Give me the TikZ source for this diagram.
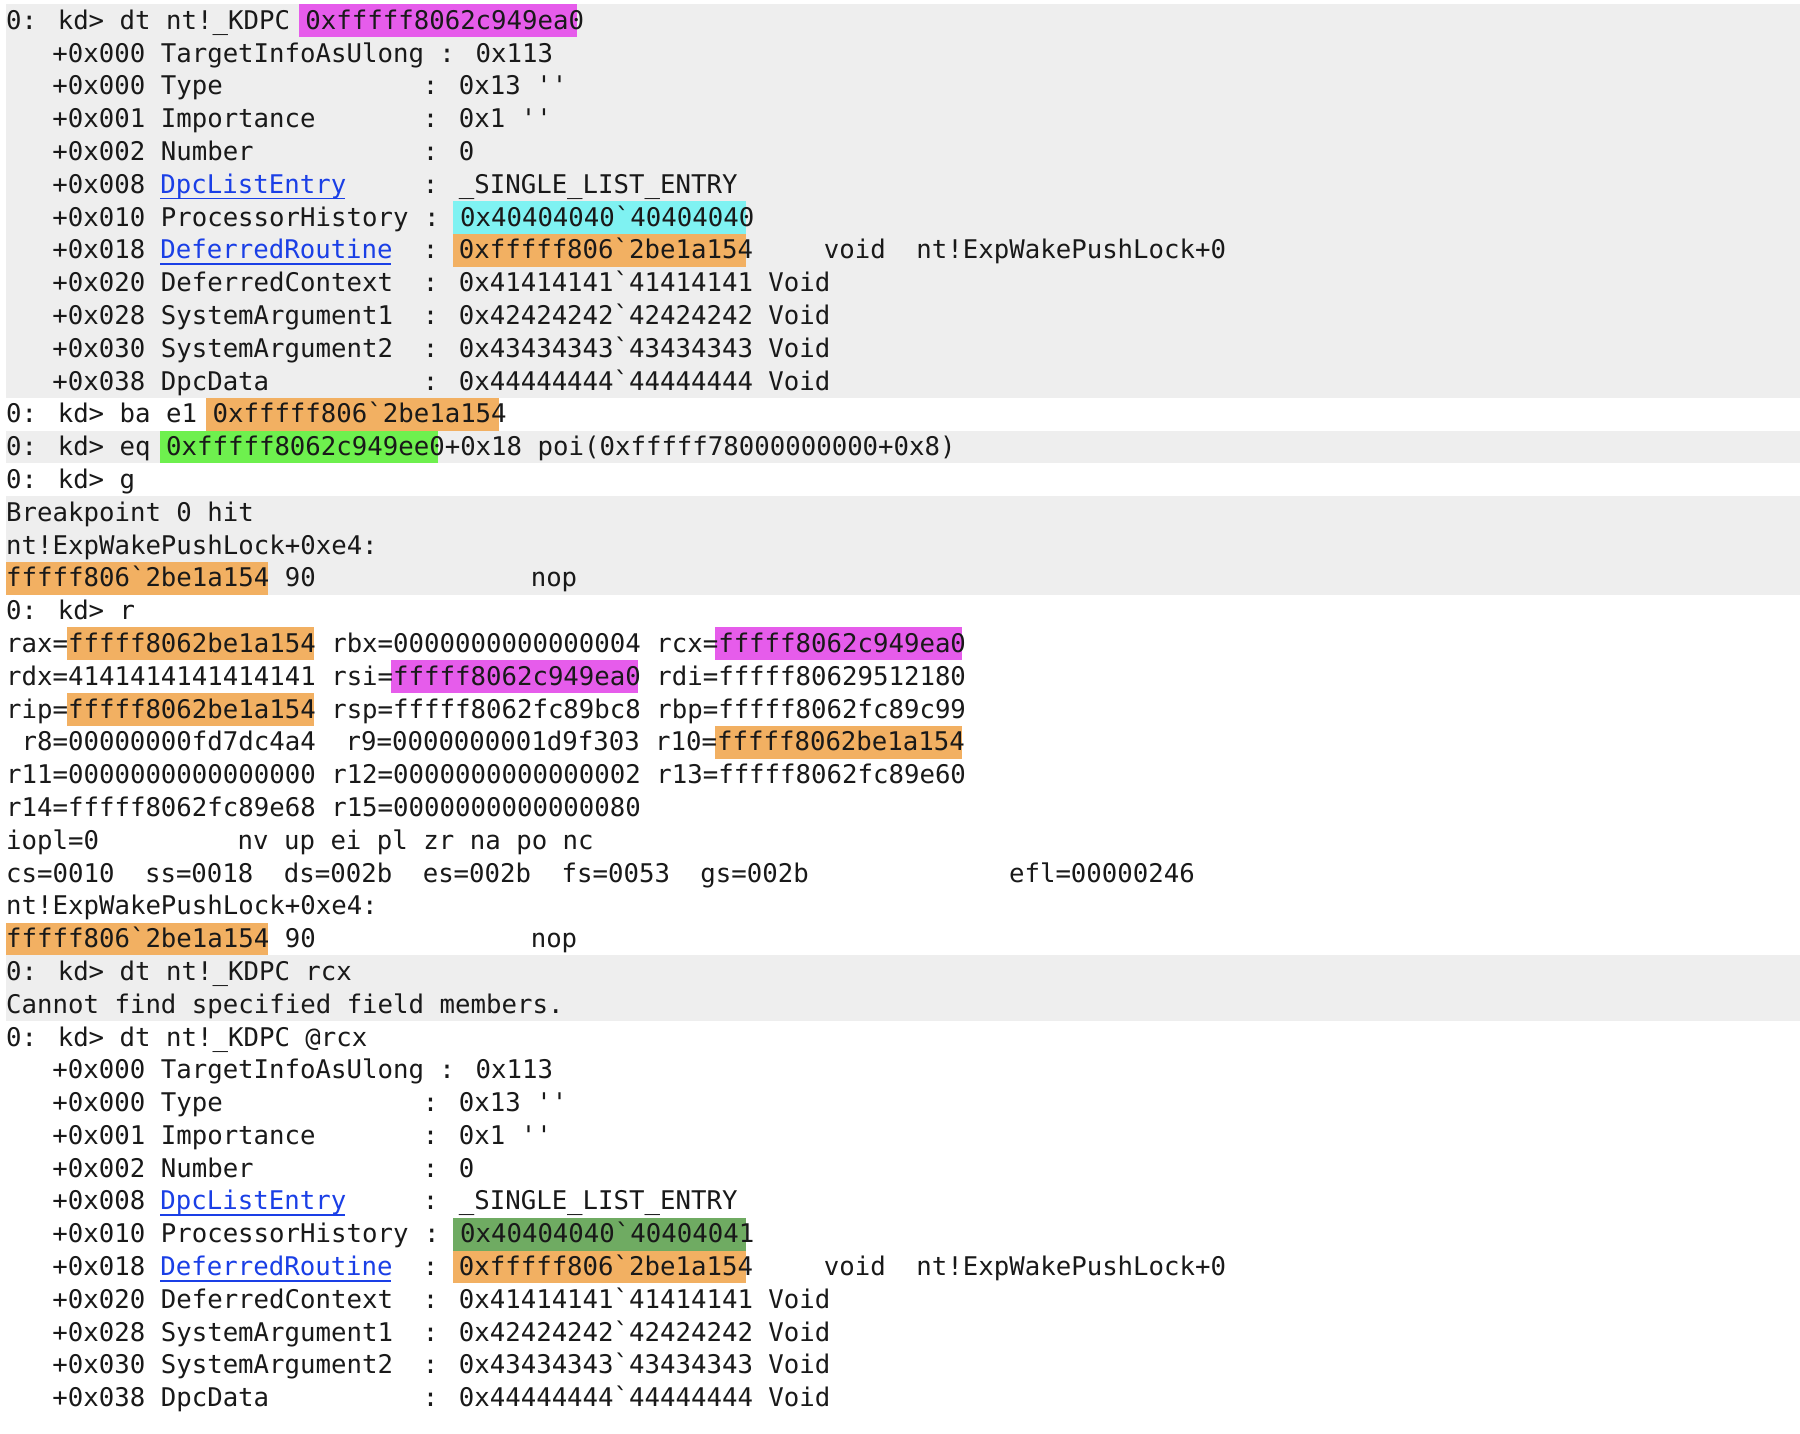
\documentclass[tikz,border=0pt]{standalone}
\usepackage{fontspec}
\newfontfamily\monof{DejaVu Sans Mono}
\newcommand\bq{\symbol{96}}
\newcommand\sq{\symbol{39}}
\definecolor{bandgray}{HTML}{EEEEEE}
\definecolor{hmag}{HTML}{E65CEB}
\definecolor{hcyan}{HTML}{7FF2F2}
\definecolor{horange}{HTML}{F2B062}
\definecolor{hgreen}{HTML}{6EF04E}
\definecolor{hdgreen}{HTML}{6FAB62}
\definecolor{linkblue}{HTML}{1A3FE6}
\tikzset{txt/.style={anchor=base west,inner sep=0pt,font=\monof\fontsize{11.2pt}{13pt}\selectfont,text=black!90}}
\newcommand\Tx[3]{\node[txt] at ({5+#2*13.44},{18+#1*28.57+7.5}) {#3};}
\newcommand\Lk[3]{\node[txt,text=linkblue] at ({5+#2*13.44},{18+#1*28.57+7.5}) {#3};
  \draw[linkblue,line width=0.6pt] ({5+#2*13.44},{18+#1*28.57+11}) -- ++({#3len*13.44},0);}
\newcommand\Ul[3]{\draw[linkblue,line width=0.7pt] ({5+#2*13.44},{18+#1*28.57+12}) -- ++({#3*13.44},0);}
\newcommand\Hl[4]{\fill[#4] ({5+#2*13.44},{18+#1*28.57-14.3}) rectangle ++({#3*13.44},28.6);}
\newcommand\Band[2]{\fill[bandgray] (5,{18+#1*28.57-14.3}) rectangle (1568,{18+#2*28.57+14.3});}
\newcommand\Kdpc[2]{%
\Tx{#1}{3}{+0x000 TargetInfoAsUlong : 0x113}
\Tx{\numexpr#1+1\relax}{3}{+0x000 Type}\Tx{\numexpr#1+1\relax}{27}{: 0x13 \sq\sq}
\Tx{\numexpr#1+2\relax}{3}{+0x001 Importance}\Tx{\numexpr#1+2\relax}{27}{: 0x1 \sq\sq}
\Tx{\numexpr#1+3\relax}{3}{+0x002 Number}\Tx{\numexpr#1+3\relax}{27}{: 0}
\Ul{\numexpr#1+4\relax}{10}{12}
\Tx{\numexpr#1+4\relax}{3}{+0x008}\node[txt,text=linkblue] at ({5+10*13.44},{18+(#1+4)*28.57+7.5}) {DpcListEntry};\Tx{\numexpr#1+4\relax}{27}{: \_SINGLE\_LIST\_ENTRY}
\Tx{\numexpr#1+5\relax}{3}{+0x010 ProcessorHistory : 0x40404040\bq4040404#2}
\Ul{\numexpr#1+6\relax}{10}{15}
\Tx{\numexpr#1+6\relax}{3}{+0x018}\node[txt,text=linkblue] at ({5+10*13.44},{18+(#1+6)*28.57+7.5}) {DeferredRoutine};\Tx{\numexpr#1+6\relax}{27}{: 0xfffff806\bq2be1a154}\Tx{\numexpr#1+6\relax}{53}{void}\Tx{\numexpr#1+6\relax}{59}{nt!ExpWakePushLock+0}
\Tx{\numexpr#1+7\relax}{3}{+0x020 DeferredContext}\Tx{\numexpr#1+7\relax}{27}{: 0x41414141\bq41414141 Void}
\Tx{\numexpr#1+8\relax}{3}{+0x028 SystemArgument1}\Tx{\numexpr#1+8\relax}{27}{: 0x42424242\bq42424242 Void}
\Tx{\numexpr#1+9\relax}{3}{+0x030 SystemArgument2}\Tx{\numexpr#1+9\relax}{27}{: 0x43434343\bq43434343 Void}
\Tx{\numexpr#1+10\relax}{3}{+0x038 DpcData}\Tx{\numexpr#1+10\relax}{27}{: 0x44444444\bq44444444 Void}}
\begin{document}
\begin{tikzpicture}[x=0.5pt,y=-0.5pt]
\useasboundingbox[fill=white] (0,0) rectangle (1568,1249);
% bands
\Band{0}{11}\Band{13}{13}\Band{15}{17}\Band{29}{30}
% highlights
\Hl{0}{19}{18}{hmag}
\Hl{6}{29}{19}{hcyan}
\Hl{7}{29}{19}{horange}
\Hl{12}{13}{19}{horange}
\Hl{13}{10}{18}{hgreen}
\Hl{17}{0}{17}{horange}
\Hl{19}{4}{16}{horange}\Hl{19}{46}{16}{hmag}
\Hl{20}{25}{16}{hmag}
\Hl{21}{4}{16}{horange}
\Hl{22}{46}{16}{horange}
\Hl{28}{0}{17}{horange}
\Hl{37}{29}{19}{hdgreen}
\Hl{38}{29}{19}{horange}
% text
\Tx{0}{0}{0: kd> dt nt!\_KDPC 0xfffff8062c949ea0}
\Kdpc{1}{0}
\Tx{12}{0}{0: kd> ba e1 0xfffff806\bq2be1a154}
\Tx{13}{0}{0: kd> eq 0xfffff8062c949ee0+0x18 poi(0xfffff78000000000+0x8)}
\Tx{14}{0}{0: kd> g}
\Tx{15}{0}{Breakpoint 0 hit}
\Tx{16}{0}{nt!ExpWakePushLock+0xe4:}
\Tx{17}{0}{fffff806\bq2be1a154 90}\Tx{17}{34}{nop}
\Tx{18}{0}{0: kd> r}
\Tx{19}{0}{rax=fffff8062be1a154 rbx=0000000000000004 rcx=fffff8062c949ea0}
\Tx{20}{0}{rdx=4141414141414141 rsi=fffff8062c949ea0 rdi=fffff80629512180}
\Tx{21}{0}{rip=fffff8062be1a154 rsp=fffff8062fc89bc8 rbp=fffff8062fc89c99}
\Tx{22}{1}{r8=00000000fd7dc4a4}\Tx{22}{22}{r9=0000000001d9f303 r10=fffff8062be1a154}
\Tx{23}{0}{r11=0000000000000000 r12=0000000000000002 r13=fffff8062fc89e60}
\Tx{24}{0}{r14=fffff8062fc89e68 r15=0000000000000080}
\Tx{25}{0}{iopl=0}\Tx{25}{15}{nv up ei pl zr na po nc}
\Tx{26}{0}{cs=0010}\Tx{26}{9}{ss=0018}\Tx{26}{18}{ds=002b}\Tx{26}{27}{es=002b}\Tx{26}{36}{fs=0053}\Tx{26}{45}{gs=002b}\Tx{26}{65}{efl=00000246}
\Tx{27}{0}{nt!ExpWakePushLock+0xe4:}
\Tx{28}{0}{fffff806\bq2be1a154 90}\Tx{28}{34}{nop}
\Tx{29}{0}{0: kd> dt nt!\_KDPC rcx}
\Tx{30}{0}{Cannot find specified field members.}
\Tx{31}{0}{0: kd> dt nt!\_KDPC @rcx}
\Kdpc{32}{1}
\end{tikzpicture}
\end{document}
